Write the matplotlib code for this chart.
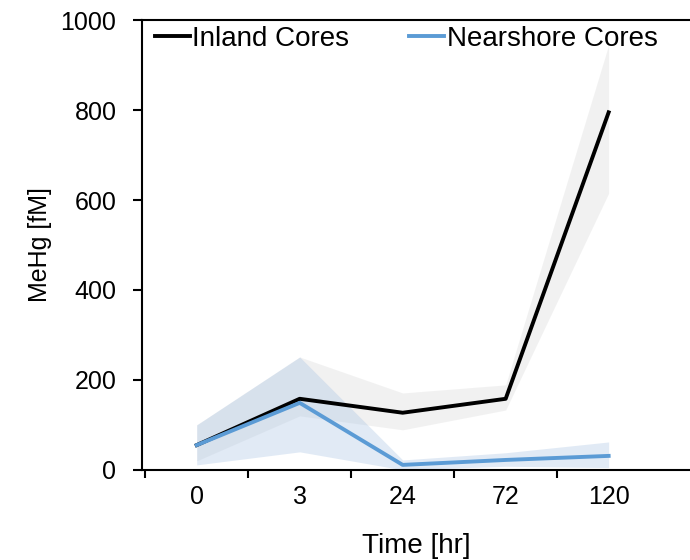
import matplotlib
matplotlib.use("Agg")
import matplotlib.pyplot as plt
import numpy as np

plt.rcParams['font.family'] = ['Liberation Sans', 'DejaVu Sans']

time_labels = ["0", "3", "24", "72", "120"]

inland_mean = [55, 158, 127, 158, 795]
inland_low = [20, 120, 89, 133, 615]
inland_high = [100, 251, 171, 189, 945]

near_mean = [55, 149, 11, 22, 31]
near_low = [11, 40, 0, 8, 5]
near_high = [100, 251, 22, 38, 62]

x = np.arange(len(time_labels))

fig = plt.figure(figsize=(6.9, 5.6), dpi=100)
ax = fig.add_axes([0.206, 0.161, 0.794, 0.803])

ax.fill_between(x, inland_low, inland_high, color="#bdbdbd", alpha=0.2, linewidth=0)
ax.fill_between(x, near_low, near_high, color="#a9c4e4", alpha=0.35, linewidth=0)
ax.plot(x, inland_mean, color="black", lw=2.8, label="Inland Cores")
ax.plot(x, near_mean, color="#5b9bd5", lw=2.8, label="Nearshore Cores")

ax.set_xlim(-0.53, 4.79)
ax.set_ylim(0, 1000)
ax.set_yticks(range(0, 1001, 200))
ax.set_xticks(x)
ax.set_xticklabels(time_labels)
ax.set_xticks(np.arange(-0.5, 4.0, 1.0), minor=True)
ax.tick_params(axis="x", which="major", length=0, pad=11, labelsize=18)
ax.tick_params(axis="x", which="minor", length=6, width=1.5, direction="out")
ax.tick_params(axis="y", length=6.5, width=1.5, direction="out", labelsize=18, pad=12)

for s in ["left", "bottom", "top"]:
    ax.spines[s].set_linewidth(1.5)
ax.spines["right"].set_visible(False)

ax.set_xlabel("Time [hr]", fontsize=20, labelpad=17)
ax.set_ylabel("MeHg [fM]", fontsize=18, labelpad=6)

leg = ax.legend(loc="upper left", bbox_to_anchor=(0.018, 0.993), ncol=2, frameon=False,
                fontsize=20, handlelength=1.25, handletextpad=0.1, columnspacing=2.15,
                borderaxespad=0.0, borderpad=0.1)

fig.savefig("out.png", dpi=100)
